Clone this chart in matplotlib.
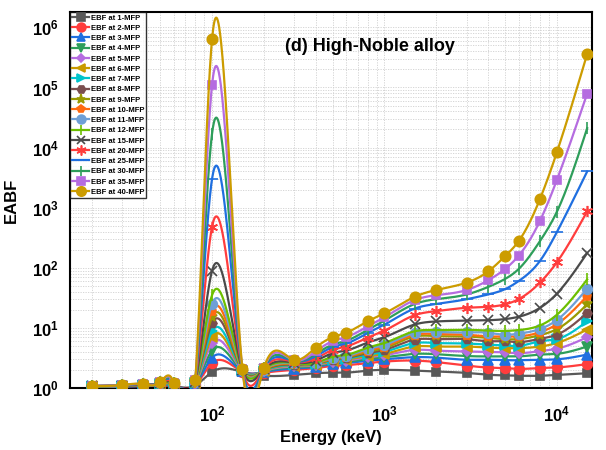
import numpy as np
import matplotlib
matplotlib.use("Agg")
import matplotlib.pyplot as plt
from matplotlib.lines import Line2D
from matplotlib.ticker import FixedLocator, LogLocator, FuncFormatter, NullFormatter

plt.rcParams["font.family"] = ["Liberation Sans", "DejaVu Sans"]
plt.rcParams["font.weight"] = "bold"
plt.rcParams["mathtext.fontset"] = "custom"
plt.rcParams["mathtext.rm"] = "Liberation Sans:bold"
plt.rcParams["mathtext.bf"] = "Liberation Sans:bold"

energy = [20, 30, 40, 50, 60, 80, 100, 150, 200, 300, 400, 500, 600, 800,
          1000, 1500, 2000, 3000, 4000, 5000, 6000, 8000, 10000, 15000]

mfp = [1, 2, 3, 4, 5, 6, 7, 8, 9, 10, 11, 12, 15, 20, 25, 30, 35, 40]

# EABF per energy, one value per mfp (1 ... 40)
e20 = [1.04, 1.04, 1.05, 1.05, 1.05, 1.06, 1.06, 1.06, 1.07, 1.07, 1.07, 1.07, 1.08, 1.08, 1.08, 1.08, 1.08, 1.08]
e30 = [1.05, 1.06, 1.06, 1.07, 1.07, 1.08, 1.08, 1.09, 1.09, 1.09, 1.10, 1.10, 1.10, 1.11, 1.11, 1.11, 1.12, 1.12]
e40 = [1.06, 1.07, 1.08, 1.09, 1.10, 1.10, 1.11, 1.12, 1.12, 1.13, 1.13, 1.14, 1.14, 1.15, 1.15, 1.16, 1.16, 1.16]
e50 = [1.08, 1.10, 1.12, 1.13, 1.14, 1.15, 1.16, 1.17, 1.18, 1.19, 1.20, 1.20, 1.21, 1.22, 1.23, 1.24, 1.25, 1.25]
e60 = [1.07, 1.08, 1.09, 1.10, 1.11, 1.12, 1.13, 1.14, 1.15, 1.15, 1.16, 1.17, 1.17, 1.18, 1.19, 1.19, 1.20, 1.20]
e80 = [1.10, 1.12, 1.14, 1.16, 1.18, 1.20, 1.22, 1.23, 1.24, 1.25, 1.26, 1.27, 1.28, 1.30, 1.31, 1.32, 1.34, 1.35]
e100 = [1.85, 2.6, 3.2, 4.2, 5.5, 7.0, 8.8, 12, 15, 19, 25, 35, 89, 480, 3000, 1.7e4, 1.1e5, 6.3e5]
e150 = [1.85, 1.88, 1.9, 1.92, 1.93, 1.95, 1.96, 1.98, 1.99, 2.0, 2.01, 2.02, 2.03, 2.04, 2.05, 2.06, 2.07, 2.08]
e200 = [1.6, 1.8, 1.85, 1.88, 1.9, 1.92, 1.94, 1.96, 1.98, 2.0, 2.02, 2.04, 2.06, 2.08, 2.1, 2.12, 2.14, 2.16]
e300 = [1.65, 2.0, 2.1, 2.2, 2.28, 2.35, 2.4, 2.45, 2.5, 2.53, 2.56, 2.6, 2.65, 2.72, 2.78, 2.83, 2.88, 2.95]
e400 = [1.76, 2.14, 2.25, 2.33, 2.4, 2.45, 2.5, 2.53, 2.56, 2.58, 2.6, 2.62, 2.86, 3.1, 3.4, 3.7, 4.06, 4.7]
e500 = [1.8, 2.33, 2.5, 2.6, 2.7, 2.8, 2.9, 2.97, 3.03, 3.08, 3.2, 3.3, 3.8, 4.3, 4.8, 5.25, 6.0, 7.0]
e600 = [1.8, 2.4, 2.6, 2.72, 2.85, 2.97, 3.08, 3.17, 3.25, 3.32, 3.4, 3.55, 4.2, 4.9, 5.5, 6.1, 7.0, 8.3]
e800 = [1.95, 2.6, 2.85, 3.05, 3.25, 3.4, 3.6, 3.8, 4.0, 4.2, 4.45, 4.7, 5.7, 6.9, 8.2, 9.3, 10.6, 12.9]
e1000 = [2.0, 2.75, 3.0, 3.25, 3.5, 3.7, 4.0, 4.3, 4.6, 4.9, 5.2, 5.6, 7.0, 9.0, 11.3, 13.2, 15.0, 17.4]
e1500 = [1.95, 2.86, 3.26, 3.7, 4.3, 4.9, 5.6, 6.4, 7.2, 7.7, 8.3, 8.8, 11.4, 16.3, 21, 25, 29, 33]
e2000 = [1.88, 2.7, 3.2, 3.65, 4.2, 4.9, 5.6, 6.5, 7.3, 7.9, 8.6, 9.2, 12.8, 19, 25, 30, 35, 42.7]
e3000 = [1.78, 2.36, 2.95, 3.4, 4.06, 4.9, 5.5, 6.5, 7.2, 7.7, 8.4, 9.3, 13.2, 21.6, 30, 36, 42.7, 56.7]
e4000 = [1.66, 2.19, 2.95, 3.35, 4.0, 4.7, 5.25, 6.0, 6.8, 7.2, 8.3, 9.0, 13.4, 22.4, 36, 48, 62, 87]
e5000 = [1.62, 2.14, 2.9, 3.35, 3.9, 4.6, 5.1, 6.0, 6.5, 7.2, 7.7, 8.9, 14.0, 24.6, 44, 65, 95, 155]
e6000 = [1.6, 2.08, 2.9, 3.35, 3.8, 4.6, 5.0, 5.8, 6.5, 7.2, 8.0, 9.2, 15.3, 30, 60, 95, 158, 276]
e8000 = [1.6, 2.15, 2.95, 3.6, 4.1, 4.9, 6.0, 6.6, 7.6, 8.5, 9.6, 11.0, 21.6, 57, 131, 280, 610, 1410]
e10000 = [1.65, 2.2, 3.0, 3.7, 4.5, 5.6, 6.5, 7.7, 9.5, 11.5, 13.5, 16.5, 37, 123, 390, 850, 2870, 8300]
e15000 = [1.76, 2.5, 3.6, 4.9, 7.0, 9.4, 12.9, 17.8, 24.6, 34, 45, 64, 176, 870, 4000, 2.1e4, 7.9e4, 3.6e5]

table = np.array([e20, e30, e40, e50, e60, e80, e100, e150, e200, e300, e400, e500,
                  e600, e800, e1000, e1500, e2000, e3000, e4000, e5000, e6000,
                  e8000, e10000, e15000])

colors = ["#595959", "#ff3d3d", "#1f6fe0", "#2e9e5a", "#b56ce0", "#c99a00",
          "#00c4cc", "#7a4e4e", "#9a9a00", "#ff6a10", "#6e9fd6", "#6cbf00",
          "#4a4a4a", "#ff3d3d", "#1f6fe0", "#2e9e5a", "#b56ce0", "#cc9c00"]
markers = ["s", "o", "^", "v", "D", "<", ">", "H", "*", "p", "o", "|",
           "x", (6, 2, 0), "_", "|", "s", "o"]
msizes = [6, 7, 6.5, 6.5, 5, 6.5, 6.5, 6.5, 7.5, 6.5, 7, 8, 7, 8, 8, 8, 6, 7.5]


def spline(x, y, xs):
    # natural cubic spline, used to draw the connecting line
    n = len(x)
    h = np.diff(x)
    A = np.zeros((n, n))
    r = np.zeros(n)
    A[0, 0] = A[-1, -1] = 1
    for i in range(1, n - 1):
        A[i, i - 1] = h[i - 1]
        A[i, i] = 2 * (h[i - 1] + h[i])
        A[i, i + 1] = h[i]
        r[i] = 3 * ((y[i + 1] - y[i]) / h[i] - (y[i] - y[i - 1]) / h[i - 1])
    c = np.linalg.solve(A, r)
    b = (y[1:] - y[:-1]) / h - h * (2 * c[:-1] + c[1:]) / 3
    d = (c[1:] - c[:-1]) / (3 * h)
    k = np.clip(np.searchsorted(x, xs) - 1, 0, n - 2)
    t = xs - x[k]
    return y[k] + b[k] * t + c[k] * t ** 2 + d[k] * t ** 3


fig = plt.figure(figsize=(6.06, 4.5), dpi=100)
ax = fig.add_axes([70 / 606, 62 / 450, 522 / 606, 376 / 450])

lx = np.log10(energy)
xs = np.linspace(lx[0], lx[-1], 1500)
handles = []
for j, m in enumerate(mfp):
    ly = np.log10(table[:, j])
    ax.plot(10 ** xs, 10 ** spline(lx, ly, xs), color=colors[j], lw=1.6, zorder=2 + j)
    ax.plot(energy, table[:, j], ls="none", marker=markers[j], ms=msizes[j],
            color=colors[j], mec=colors[j], mew=1.2, zorder=2 + j)
    handles.append(Line2D([], [], color=colors[j], lw=1.6, marker=markers[j],
                          ms=msizes[j], mew=1.2, label="EBF at %d-MFP" % m))

ax.set_xscale("log")
ax.set_yscale("log")
ax.set_xlim(15, 16000)
ax.set_ylim(1, 1.8e6)

fmt = FuncFormatter(lambda v, p: r"$\mathbf{10^{%d}}$" % round(np.log10(v)))
ax.xaxis.set_major_locator(FixedLocator([1e2, 1e3, 1e4]))
ax.yaxis.set_major_locator(FixedLocator([1e0, 1e1, 1e2, 1e3, 1e4, 1e5, 1e6]))
ax.xaxis.set_major_formatter(fmt)
ax.yaxis.set_major_formatter(fmt)
ax.xaxis.set_minor_locator(LogLocator(base=10, subs=np.arange(2, 10)))
ax.yaxis.set_minor_locator(LogLocator(base=10, subs=np.arange(2, 10)))
ax.xaxis.set_minor_formatter(NullFormatter())
ax.yaxis.set_minor_formatter(NullFormatter())
ax.tick_params(which="both", length=0, labelsize=12)
ax.tick_params(axis="x", pad=12)
ax.tick_params(axis="y", pad=8)
ax.grid(True, which="both", color="#d0d0d0", lw=0.6, ls=(0, (1.5, 1.5)))
ax.set_axisbelow(True)
for s in ax.spines.values():
    s.set_linewidth(1.5)

ax.set_xlabel("Energy (keV)", fontsize=12, fontweight="bold", labelpad=4)
ax.set_ylabel("EABF", fontsize=12, fontweight="bold", labelpad=9)
ax.text(0.575, 0.908, "(d) High-Noble alloy", transform=ax.transAxes,
        fontsize=13, fontweight="bold", ha="center", va="center")

leg = ax.legend(handles=handles, loc="upper left", fontsize=5.5, frameon=True,
                fancybox=False, edgecolor="black", borderaxespad=0,
                handlelength=2.2, handletextpad=0.2, labelspacing=0.38,
                borderpad=0.3, markerscale=0.9)
leg.get_frame().set_linewidth(1.0)
leg.set_zorder(50)

fig.savefig("out.png", dpi=100)
